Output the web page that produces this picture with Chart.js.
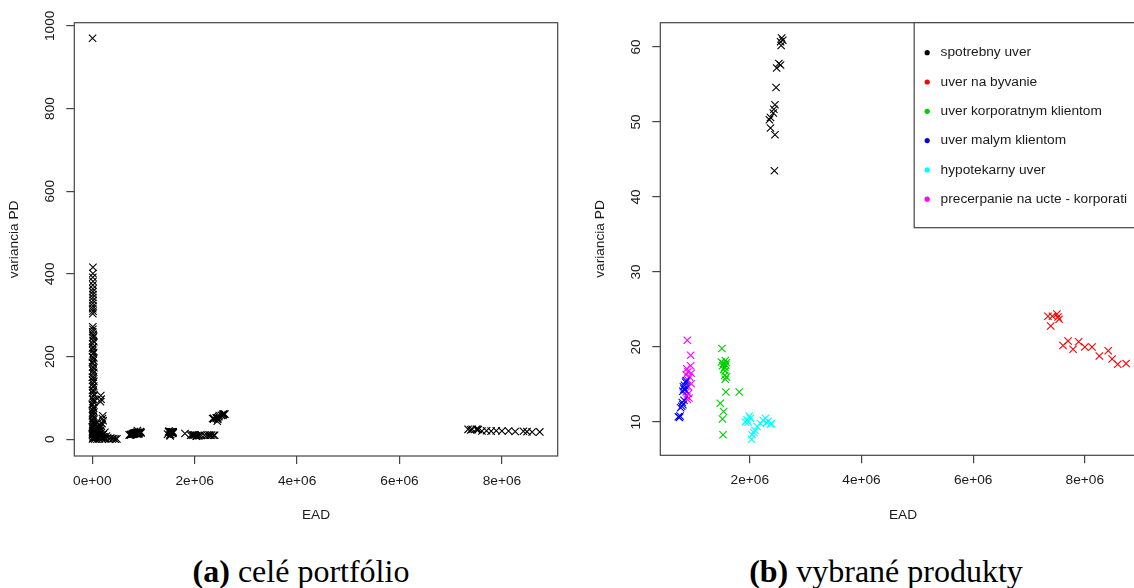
<!DOCTYPE html>
<html><head><meta charset="utf-8">
<script src="https://cdn.jsdelivr.net/npm/chart.js@4"></script>
<style>
html,body{margin:0;padding:0;background:#fff;overflow:hidden;width:1134px;height:588px;}
#wrap{position:relative;width:1134px;height:588px;overflow:hidden;}
#c1{position:absolute;left:0;top:0;}
#c2{position:absolute;left:567px;top:0;}
.cap{position:absolute;top:555px;font-family:"Liberation Serif",serif;font-size:32px;line-height:32px;white-space:nowrap;color:#000;transform:translateX(-50%);}
</style></head>
<body>
<div id="wrap">
<canvas id="c1" width="567" height="530"></canvas>
<canvas id="c2" width="600" height="530"></canvas>
<div class="cap" style="left:301px"><b>(a)</b> celé portfólio</div>
<div class="cap" style="left:886px"><b>(b)</b> vybrané produkty</div>
</div>
<script>
// ---- data (EAD in millions, variancia PD) ----
const seriesNames = ['spotrebny uver','uver na byvanie','uver korporatnym klientom','uver malym klientom','hypotekarny uver','precerpanie na ucte - korporati'];
const seriesColors = ['#000000','#FF0000','#00CD00','#0000FF','#00FFFF','#FF00FF'];

const spotrebnyX = [2.57,2.59,2.55,2.56,2.52,2.55,2.48,2.47,2.45,2.43,2.42,2.37,2.35,2.37,2.45,2.44];
const spotrebnyY = [61.2,60.9,60.7,60.2,57.8,57.6,57.2,54.6,52.3,51.7,51.2,50.6,50.3,49.2,48.3,43.5];

const byvanieX = [7.34,7.42,7.50,7.52,7.54,7.39,7.61,7.70,7.79,7.89,8.00,8.13,8.26,8.42,8.49,8.59,8.74];
const byvanieY = [24.1,24.1,24.4,24.0,23.7,22.8,20.2,20.8,19.7,20.7,20.0,20.0,18.8,19.5,18.4,17.7,17.8];

const korporatnymX = [1.50,1.49,1.53,1.56,1.58,1.51,1.55,1.57,1.53,1.56,1.55,1.58,1.56,1.57,1.81,1.47,1.53,1.51,1.52];
const korporatnymY = [19.8,18.0,17.8,18.2,17.9,17.5,17.3,17.6,17.0,16.8,16.2,16.0,15.7,14.0,14.0,12.5,11.4,10.4,8.3];

const malymX = [0.72,0.74,0.75,0.76,0.78,0.80,0.79,0.82,0.80,0.82,0.81,0.83,0.85,0.86,0.84];
const malymY = [10.7,10.6,10.8,11.9,12.1,12.3,12.6,12.9,14.1,14.4,14.7,14.9,15.3,15.5,14.3];

const hypotekarnyX = [1.92,1.95,1.97,1.99,2.01,2.03,2.04,2.07,2.09,2.13,2.19,2.24,2.28,2.30,2.33,2.37,2.39];
const hypotekarnyY = [10.0,10.3,10.0,10.8,10.5,7.7,8.3,8.6,8.9,9.4,9.8,10.2,10.5,9.9,10.1,9.7,9.8];

const precerpanieX = [0.88,0.94,0.94,0.87,0.95,0.89,0.86,0.92,0.89,0.95,0.90,0.86,0.90,0.87,0.91,0.88];
const precerpanieY = [20.9,18.9,17.5,17.1,16.5,16.7,16.3,16.0,15.6,15.1,14.7,14.0,13.8,13.4,13.2,13.0];

// remaining portfolio (only in the whole-portfolio panel)
const ostatneX = [0.004,0.012,0.020,0.006,0.015,0.025,0.008,0.018,0.003,0.022,0.010,0.016,0.005,0.021,0.012,0.007,0.019,0.014,0.004,0.023,0.009,0.017,0.006,0.020,0.011,0.015,0.005,0.022,0.010,0.018,0.007,0.013,0.021,0.004,0.016,0.009,0.019,0.006,0.014,0.011,0.017,0.008,0.012,0.010,
  0.030,0.002,0.028,0.001,0.032,0.026,0.002,0.031,0.027,0.001,0.029,0.033,0.003,0.028,0.030,0.002,0.027,0.031,0.001,0.029,0.026,0.003,0.030,0.028,
  0.010,0.014,0.008,0.012,0.009,0.015,0.011,0.013,0.010,0.012,0.011,0.014,0.010,0.012,0.013,0.005,
  0.165,0.172,0.160,0.205,0.198,0.212,0.190,0.175,0.150,
  0.030,0.045,0.060,0.040,0.070,0.085,0.095,0.110,0.120,0.135,0.150,0.160,0.175,0.185,0.200,0.215,0.230,0.245,0.260,0.275,0.300,0.330,0.360,0.390,0.420,0.450,0.480,0.055,0.080,0.100,0.125,0.050,0.090,0.140,0.190,0.240,0.035,0.065,0.105,0.145];
const ostatneY = [1,3,6,9,12,15,19,23,27,31,36,41,46,52,58,64,70,76,83,90,97,104,112,119,127,135,143,151,159,167,175,183,191,199,207,215,223,231,239,246,253,260,266,272,
  4,13,21,30,39,48,57,66,75,85,95,108,118,129,140,150,162,173,186,197,210,221,236,249,
  304,310,316,322,329,336,343,350,357,364,373,382,392,401,416,970,
  106,97,91,57,50,45,38,32,28,
  2,8,14,22,27,18,11,5,20,13,7,22,16,9,3,12,6,17,2,8,4,1,3,1,2,0.5,1,35,40,30,26,1,0.5,1,0.5,1,17,5,24,34];

const xTickValues = [0,2,4,6,8];
const xTickLabels = ['0e+00','2e+06','4e+06','6e+06','8e+06'];
const yTicksAll = [0,200,400,600,800,1000];
const yTicksSel = [10,20,30,40,50,60];

const MIL = 1e6;
const productX = [spotrebnyX,byvanieX,korporatnymX,malymX,hypotekarnyX,precerpanieX];
const productY = [spotrebnyY,byvanieY,korporatnymY,malymY,hypotekarnyY,precerpanieY];
function pts(xs, ys){ return xs.map((x,i)=>({x:x*MIL, y:ys[i]})); }

// ---- styling ----
const FONT = {family:'"Liberation Sans", Arial, sans-serif', size:13.7};
const AXC = '#444';
const TXT = '#1a1a1a';

const framePlugin = {
  id:'frame',
  afterDatasetsDraw(chart){
    const a = chart.chartArea, ctx = chart.ctx;
    ctx.save(); ctx.strokeStyle = AXC; ctx.lineWidth = 1.2;
    ctx.strokeRect(a.left, a.top, a.right-a.left, a.bottom-a.top);
    ctx.restore();
  }
};
const rLegend = {
  id:'rLegend',
  afterDraw(chart, args, o){
    if(!o || !o.show) return;
    const ctx = chart.ctx, a = chart.chartArea;
    ctx.save();
    ctx.font = FONT.size + 'px ' + FONT.family;
    const items = chart.data.datasets.map(d=>({text:d.label, color:d.borderColor}));
    const maxW = Math.max(...items.map(it=>ctx.measureText(it.text).width));
    const right = a.right;
    const left = right - (o.padLeft + o.textGap + maxW + o.padRight);
    const top = a.top, h = o.height;
    ctx.fillStyle = '#fff'; ctx.fillRect(left, top, right-left, h);
    ctx.strokeStyle = AXC; ctx.lineWidth = 1.2; ctx.strokeRect(left, top, right-left, h);
    items.forEach((it,i)=>{
      const y = top + o.firstRow + i*o.rowStep;
      ctx.fillStyle = it.color; ctx.beginPath(); ctx.arc(left+o.padLeft, y, o.dotR, 0, Math.PI*2); ctx.fill();
      ctx.fillStyle = TXT; ctx.textBaseline = 'middle'; ctx.textAlign = 'left';
      ctx.fillText(it.text, left+o.padLeft+o.textGap, y);
    });
    ctx.restore();
  }
};

function makeChart(canvas, datasets, cfg){
  return new Chart(canvas, {
    type:'scatter',
    data:{datasets},
    options:{
      responsive:false, animation:false, events:[],
      layout:{padding:{left:0, top:cfg.top, right:cfg.padRight, bottom:0}},
      plugins:{legend:{display:false}, tooltip:{enabled:false}, rLegend:cfg.legend || {show:false}},
      scales:{
        x:{
          type:'linear', min:cfg.xmin, max:cfg.xmax,
          afterFit(s){ s.height = cfg.xAxisH; },
          afterBuildTicks(s){ s.ticks = xTickValues.map(v=>v*MIL).filter(v=>v>=cfg.xmin && v<=cfg.xmax).map(v=>({value:v})); },
          ticks:{font:FONT, color:TXT, padding:9, maxRotation:0, autoSkip:false,
            callback(v){ const i = xTickValues.indexOf(Math.round(v/MIL)); return i>=0 ? xTickLabels[i] : ''; }},
          grid:{display:true, drawOnChartArea:false, drawTicks:true, tickLength:8, color:AXC, lineWidth:1.2},
          border:{display:false},
          title:{display:true, text:'EAD', font:FONT, color:TXT, padding:{top:0,bottom:6.4}}
        },
        y:{
          type:'linear', min:cfg.ymin, max:cfg.ymax,
          afterFit(s){ s.width = cfg.yAxisW; },
          afterBuildTicks(s){ s.ticks = cfg.yTicks.map(v=>({value:v})); },
          ticks:{font:FONT, color:TXT, minRotation:90, maxRotation:90, crossAlign:'center', padding:cfg.yTickPad, autoSkip:false,
            callback(v){ return String(v); }},
          grid:{display:true, drawOnChartArea:false, drawTicks:true, tickLength:8, color:AXC, lineWidth:1.2},
          border:{display:false},
          title:{display:true, text:'variancia PD', font:FONT, color:TXT, padding:{top:cfg.yTitlePad,bottom:0}}
        }
      }
    },
    plugins:[framePlugin, rLegend]
  });
}

const markerBase = {showLine:false, pointStyle:'crossRot', pointRadius:5.2, pointBorderWidth:1.1, pointHoverRadius:5.2};

// (a) whole portfolio: all points in black
const dsAll = productX.map((xs,k)=>Object.assign({label:seriesNames[k], data:pts(xs, productY[k]), borderColor:'#000', backgroundColor:'#000'}, markerBase));
dsAll.push(Object.assign({label:'ostatne', data:pts(ostatneX, ostatneY), borderColor:'#000', backgroundColor:'#000'}, markerBase));
makeChart(document.getElementById('c1'), dsAll, {
  top:22.7, padRight:567-557.7, xAxisH:530-456, yAxisW:74.3,
  xmin:-0.3516*MIL, xmax:9.09*MIL, ymin:-40.4, ymax:1007.5, yTicks:yTicksAll,
  yTickPad:1.3, yTitlePad:6.2
});

// (b) selected products, coloured
const dsSel = productX.map((xs,k)=>Object.assign({label:seriesNames[k], data:pts(xs, productY[k]), borderColor:seriesColors[k], backgroundColor:seriesColors[k]}, markerBase));
makeChart(document.getElementById('c2'), dsSel, {
  top:22.7, padRight:600-578.6, xAxisH:530-455.3, yAxisW:93.3,
  xmin:0.396*MIL, xmax:9.089*MIL, ymin:5.56, ymax:63.24, yTicks:yTicksSel,
  yTickPad:8.1, yTitlePad:24.9,
  legend:{show:true, padLeft:13, textGap:13.4, padRight:18.6, firstRow:30, rowStep:29.3, height:205, dotR:2.6}
});
</script>
</body></html>
